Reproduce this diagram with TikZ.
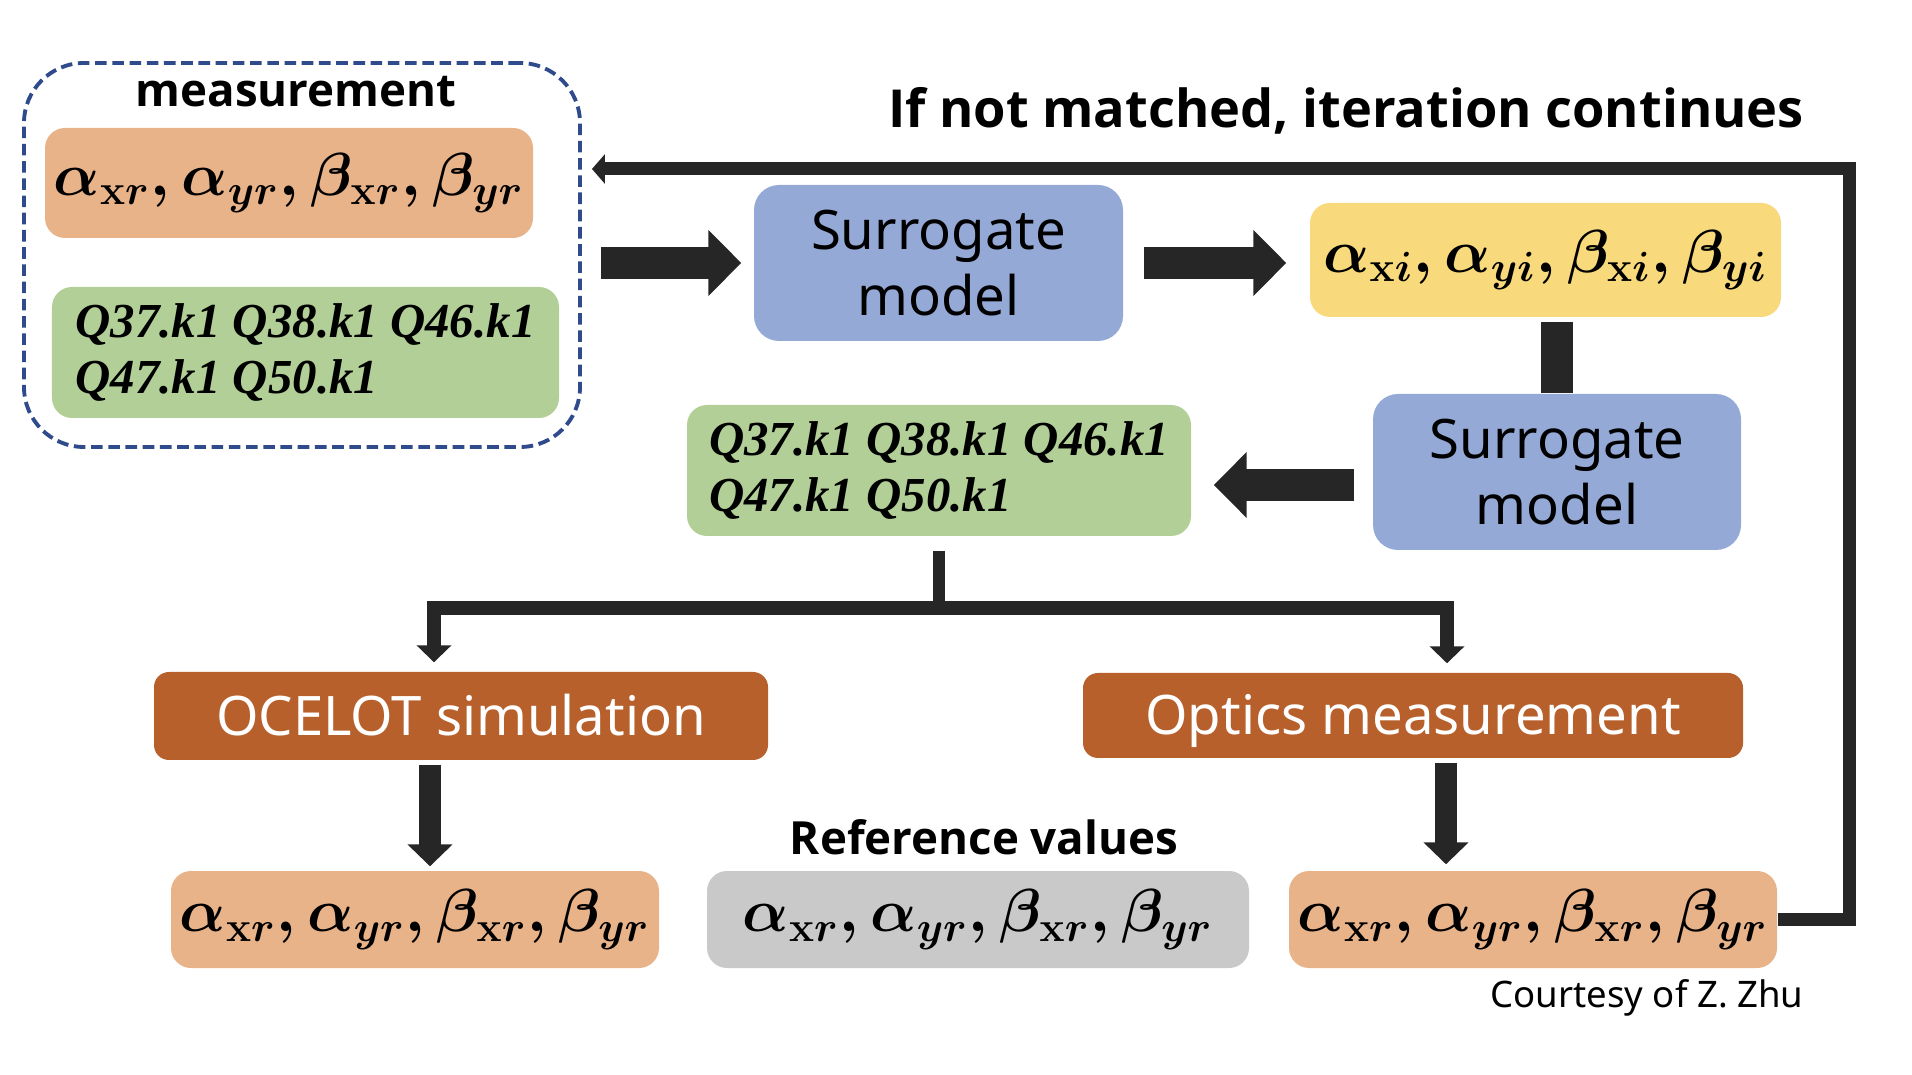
\documentclass[tikz,border=0pt]{standalone}
\usepackage{fontspec}
\setsansfont{Noto Sans}
\newfontfamily\labelfont{Open Sans}
\newfontfamily\quadfont{Liberation Serif}
\usetikzlibrary{arrows.meta}
\definecolor{twissorange}{HTML}{E9B38A}
\definecolor{quadgreen}{HTML}{B1CF96}
\definecolor{surblue}{HTML}{95A9D7}
\definecolor{twissyellow}{HTML}{F8D97B}
\definecolor{simbrown}{HTML}{B7602B}
\definecolor{refgray}{HTML}{C9C9C9}
\definecolor{dashblue}{HTML}{2F4B8C}
\definecolor{arrowgray}{HTML}{262626}
\newcommand{\twiss}[1]{{\boldmath$\alpha_{\mathbf{x}#1},\alpha_{y#1},\beta_{\mathbf{x}#1},\beta_{y#1}$}}
\newcommand{\quads}{Q37.k1 Q38.k1 Q46.k1\\Q47.k1 Q50.k1}
\tikzset{
    BX/.style ={rectangle, rounded corners=0.2cm, inner sep=0pt},
    TW/.style ={BX, fill=twissorange, minimum width=4.88cm, minimum height=0.97cm, font=\fontsize{17.5}{20}\selectfont},
    QK/.style ={BX, fill=quadgreen, minimum width=5.05cm, minimum height=1.31cm, align=left, font=\fontsize{13.9}{15.9}\selectfont\quadfont\bfseries\itshape},
    SG/.style ={BX, fill=surblue, minimum width=3.69cm, minimum height=1.56cm, align=center, rounded corners=0.25cm, font=\fontsize{15.5}{19}\selectfont\sffamily},
    SIM/.style ={BX, fill=simbrown, text=white, rounded corners=0.15cm, text height=0.39cm, text depth=0pt, font=\fontsize{15.5}{19}\selectfont\sffamily},
    LB/.style ={inner sep=0pt, font=\fontsize{13}{15}\selectfont\labelfont\bfseries},
    FA/.style ={draw=arrowgray, line width=9.1pt, -{Triangle[length=0.33cm, width=0.64cm]}},
    MA/.style ={draw=arrowgray, line width=6.3pt, -{Triangle[length=0.22cm, width=0.44cm]}},
    TA/.style ={draw=arrowgray, line width=4pt, -{Triangle[length=0.17cm, width=0.34cm]}},
    LP/.style ={draw=arrowgray, line width=3.7pt, -{Triangle[length=0.13cm, width=0.29cm]}}}
\begin{document}
\begin{tikzpicture}
    \useasboundingbox (0,0) rectangle (19.12,10.74);
    % measurement group
    \node[draw=dashblue, line width=1.1pt, dash pattern=on 3.3pt off 1.6pt, rounded corners=0.6cm, minimum width=5.56cm, minimum height=3.84cm] (meas) at (3.02,8.19) {};
    \node[LB, anchor=base] (measlabel) at (2.96,9.67) {measurement};
    \node[TW, minimum height=1.10cm] (twissM) at (2.89,8.91) {\twiss{r}};
    \node[QK, minimum width=5.07cm] (quadsM) at (3.055,7.215) {\quads};
    % surrogate loop
    \node[SG] (sur1) at (9.385,8.11) {Surrogate\\model};
    \node[TW, fill=twissyellow, minimum width=4.71cm, minimum height=1.14cm] (twissI) at (15.455,8.14) {\twiss{i}};
    \node[SG, minimum width=3.68cm] (sur2) at (15.57,6.02) {Surrogate\\model};
    \node[QK, minimum width=5.04cm] (quadsI) at (9.39,6.035) {\quads};
    % simulation and measurement
    \node[SIM, minimum width=6.14cm, minimum height=0.88cm] (ocelot) at (4.61,3.58) {OCELOT simulation};
    \node[SIM, minimum width=6.6cm, minimum height=0.85cm] (optics) at (14.13,3.585) {Optics measurement};
    \node[TW] (twissS) at (4.15,1.545) {\twiss{r}};
    \node[TW, fill=refgray, minimum width=5.42cm] (twissR) at (9.78,1.545) {\twiss{r}};
    \node[TW] (twissO) at (15.33,1.545) {\twiss{r}};
    \node[LB, anchor=base] (reflabel) at (9.84,2.19) {Reference values};
    \node[LB, anchor=base, font=\fontsize{14.9}{17}\selectfont\labelfont\bfseries] (iterlabel) at (13.46,9.46) {If not matched, iteration continues};
    \node[LB, anchor=base, font=\fontsize{10.4}{12}\selectfont\sffamily] (courtesy) at (16.47,0.67) {Courtesy of Z. Zhu};
    % connectors
    \draw[FA, shorten <=0.19cm, shorten >=0.12cm] (sur1.west -| meas.east) -- (sur1.west);
    \draw[FA, shorten <=0.2cm, shorten >=0.23cm] (sur1.east) -- (sur1.east -| twissI.west);
    \draw[draw=arrowgray, line width=9.1pt, shorten <=0.04cm] (twissI.south -| sur2.north) -- (sur2.north);
    \draw[FA, shorten <=0.18cm, shorten >=0.22cm] ([yshift=-0.13cm]sur2.west) -- ([yshift=-0.13cm]sur2.west -| quadsI.east);
    \coordinate (fork) at (9.39,4.66);
    \draw[draw=arrowgray, line width=3.6pt, shorten <=0.14cm] (quadsI.south) -- (fork);
    \draw[TA, shorten >=0.09cm] (fork) -| ([xshift=-0.27cm]ocelot.north);
    \draw[TA, shorten >=0.09cm] (fork) -| ([xshift=0.34cm]optics.north);
    \draw[MA, shorten <=0.04cm, shorten >=0.04cm] ([xshift=-0.31cm]ocelot.south) -- ([xshift=-0.31cm]ocelot.south |- twissS.north);
    \draw[MA, shorten <=0.04cm, shorten >=0.06cm] ([xshift=0.33cm]optics.south) -- ([xshift=0.33cm]optics.south |- twissO.north);
    \coordinate (loopTR) at (18.49,9.05);
    \draw[LP, shorten >=0.1cm] (twissO.east) -| (loopTR) -- (loopTR -| meas.east);
\end{tikzpicture}
\end{document}
